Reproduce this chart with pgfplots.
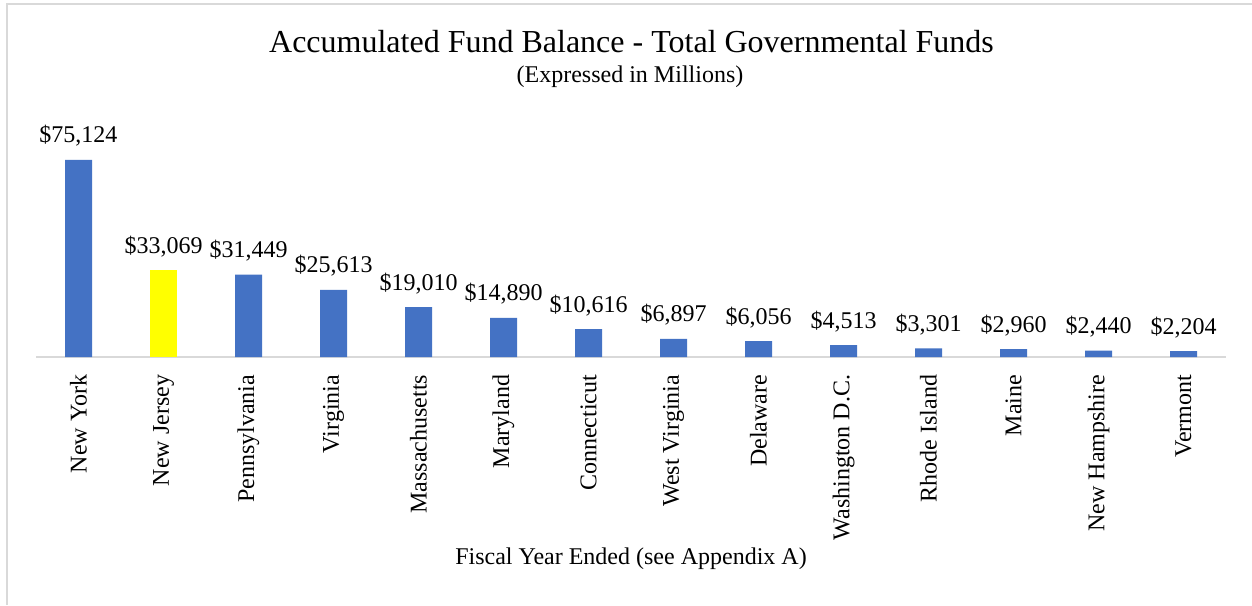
\documentclass[border=0pt]{standalone}
\usepackage{fontspec}
\setmainfont{Liberation Serif}
\usepackage{pgfplots}
\pgfplotsset{compat=1.18}
\definecolor{barblue}{HTML}{4472C4}
\definecolor{baryellow}{HTML}{FFFF00}
\definecolor{frameGray}{HTML}{D9D9D9}

\begin{document}
\begin{tikzpicture}
\useasboundingbox (0pt,0pt) rectangle (626pt,302.5pt);
\fill[white] (0pt,0pt) rectangle (626pt,302.5pt);
\draw[frameGray, line width=0.8pt] (3.5pt,0pt) -- (3.5pt,300.5pt) -- (626pt,300.5pt);

\node[anchor=base, font=\fontsize{16}{19}\selectfont] at (315.75pt,276.2pt) {Accumulated Fund Balance - Total Governmental Funds};
\node[anchor=base, font=\fontsize{12}{14}\selectfont] at (315pt,261pt) {(Expressed in Millions)};

\begin{axis}[
    at={(18pt,124pt)}, anchor=south west,
    scale only axis,
    width=595pt, height=130pt,
    xmin=-0.5, xmax=13.5,
    ymin=0, ymax=99146,
    axis x line=bottom, axis y line=none,
    x axis line style={draw=frameGray, line width=1pt, -},
    xtick={0,...,13},
    xticklabels={New York,New Jersey,Pennsylvania,Virginia,Massachusetts,Maryland,Connecticut,West Virginia,Delaware,Washington D.C.,Rhode Island,Maine,New Hampshire,Vermont},
    xtick style={draw=none},
    xticklabel style={rotate=90, anchor=east, inner sep=0pt, font=\fontsize{12}{14}\selectfont},
    xticklabel shift=4.5pt,
    ytick=\empty,
    ybar, bar width=13.5pt,
    clip=false,
    nodes near coords={\$\pgfmathprintnumber[assume math mode=true, fixed, precision=0, 1000 sep={,}]{\pgfplotspointmeta}},
    every node near coord/.append style={anchor=base, yshift=8.5pt, inner sep=0pt, font=\fontsize{12}{14}\selectfont, text=black},
    xlabel={Fiscal Year Ended (see Appendix A)},
    xlabel style={font=\fontsize{12}{14}\selectfont},
]
\addplot[fill=barblue, draw=none, bar shift=0pt] coordinates {
    (0,75124) (2,31449) (3,25613) (4,19010) (5,14890) (6,10616)
    (7,6897) (8,6056) (9,4513) (10,3301) (11,2960) (12,2440) (13,2204)
};
\addplot[fill=baryellow, draw=none, bar shift=0pt] coordinates {(1,33069)};
\end{axis}
\end{tikzpicture}
\end{document}
